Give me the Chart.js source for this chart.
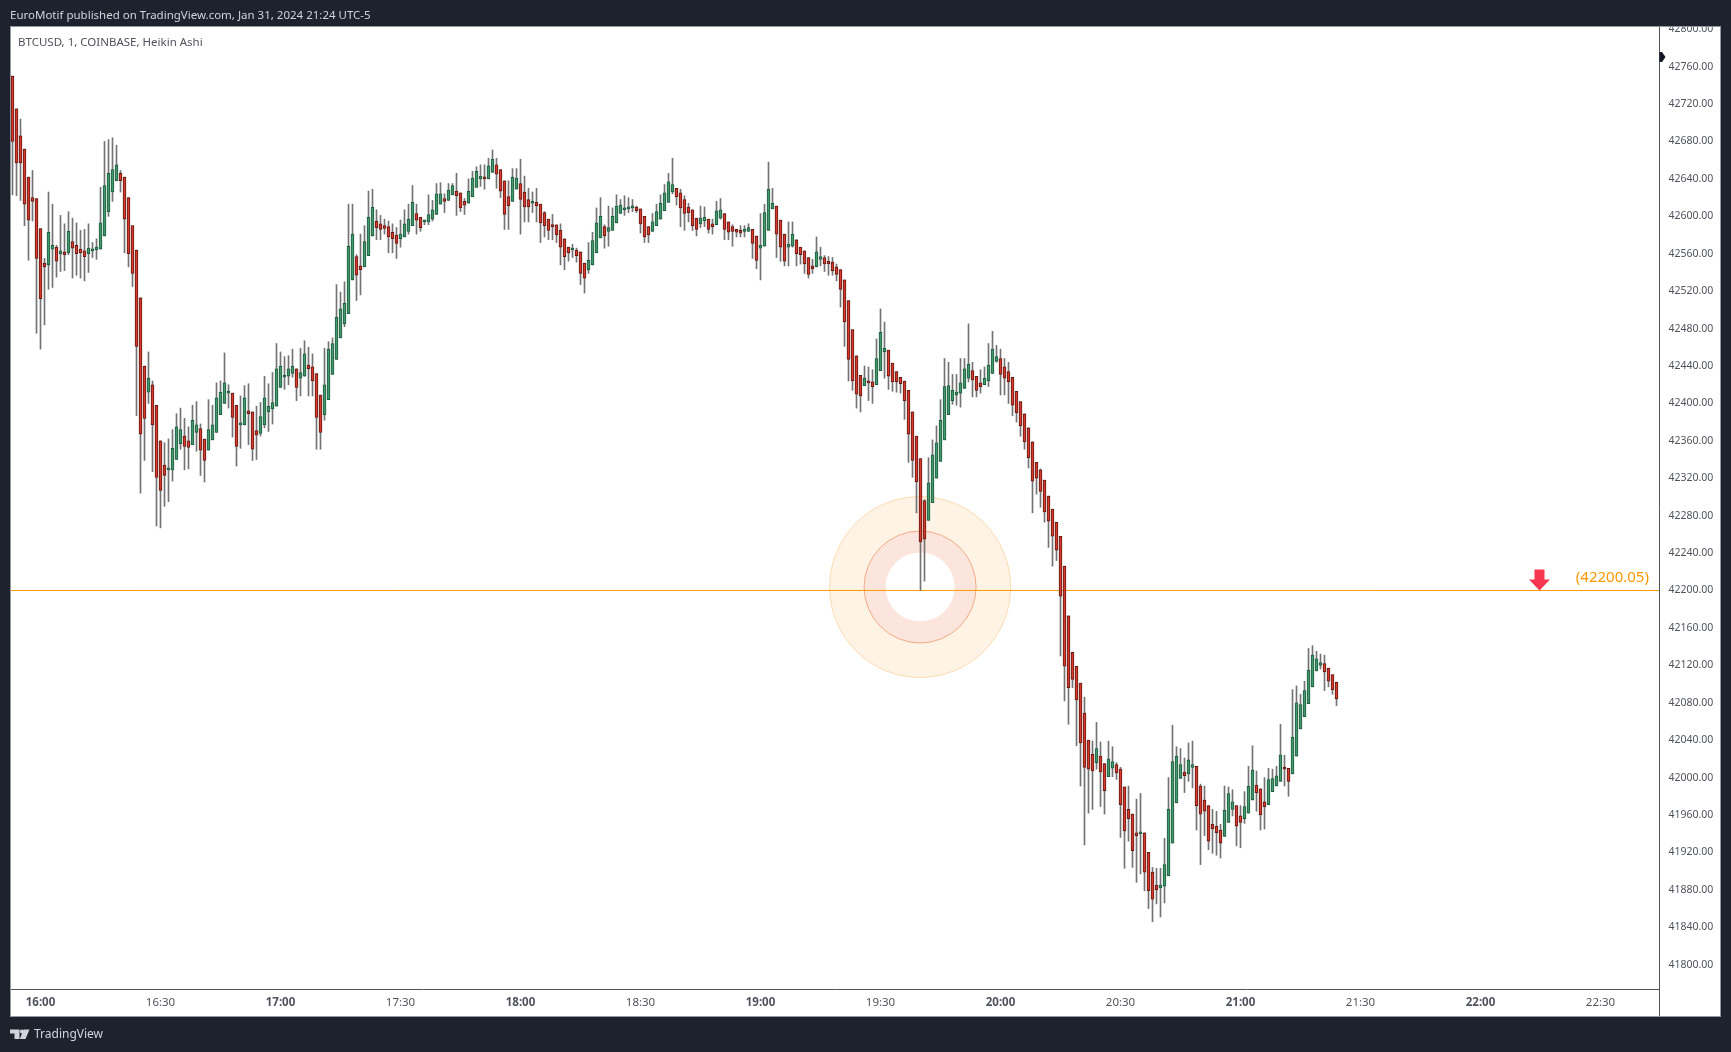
<!DOCTYPE html>
<html>
<head>
<meta charset="utf-8">
<title>BTCUSD Heikin Ashi</title>
<style>
  html, body { margin: 0; padding: 0; background: #1e222d; overflow: hidden; }
  canvas { display: block; }
</style>
</head>
<body>
<canvas id="chart" width="1731" height="1052"></canvas>
<script src="https://cdn.jsdelivr.net/npm/chart.js@4/dist/chart.umd.min.js"></script>
<script>
// minutes after 16:00 of the first bar (15:53)
const firstMinute = -7;

const opens = [
  42750,42715,42686,42672,42642,42620,42619,42587,42550,42548,
  42565,42567,42560,42562,42561,42573,42569,42565,42563,42560,
  42563,42564,42565,42579,42605,42626,42638,42646,42642,42620,
  42590,42564,42513,42440,42412,42420,42398,42360,42334,42329,
  42329,42340,42357,42365,42360,42356,42369,42373,42362,42350,
  42361,42369,42388,42400,42411,42411,42398,42377,42377,42392,
  42391,42371,42368,42377,42391,42394,42397,42417,42428,42429,
  42432,42437,42427,42429,42441,42439,42432,42409,42388,42404,
  42431,42447,42470,42485,42496,42532,42557,42547,42546,42558,
  42579,42595,42592,42590,42589,42583,42580,42576,42578,42584,
  42590,42603,42599,42594,42594,42597,42602,42613,42619,42617,
  42623,42627,42625,42616,42614,42621,42631,42640,42641,42640,
  42647,42655,42650,42638,42621,42616,42629,42635,42626,42618,
  42614,42615,42613,42604,42597,42591,42591,42585,42576,42567,
  42564,42564,42562,42550,42543,42548,42561,42577,42589,42584,
  42585,42593,42603,42607,42608,42609,42610,42608,42600,42589,
  42584,42590,42597,42606,42615,42626,42630,42625,42618,42610,
  42607,42598,42592,42595,42597,42592,42591,42598,42603,42594,
  42589,42586,42585,42584,42584,42586,42579,42566,42568,42585,
  42608,42611,42596,42581,42567,42568,42575,42567,42563,42556,
  42547,42546,42554,42556,42552,42551,42546,42543,42532,42510,
  42479,42451,42430,42419,42423,42423,42420,42435,42455,42457,
  42443,42434,42428,42424,42414,42391,42365,42341,42296,42275,
  42294,42320,42338,42361,42388,42403,42409,42411,42416,42427,
  42435,42429,42422,42420,42424,42432,42445,42448,42439,42434,
  42428,42413,42402,42389,42374,42359,42337,42329,42318,42301,
  42287,42273,42258,42226,42173,42134,42119,42101,42069,42040,
  42025,42016,42023,42015,42001,42010,42014,42009,41990,41966,
  41961,41941,41940,41941,41920,41899,41885,41882,41884,41895,
  41930,41973,41999,42006,42004,42011,42012,41991,41976,41970,
  41950,41948,41944,41937,41952,41966,41970,41959,41956,41962,
  41976,41992,41988,41974,41971,41985,41991,41996,42010,42010,
  42004,42023,42052,42065,42079,42097,42114,42120,42122,42117,
  42110,42102
];

const closes = [
  42680,42657,42657,42613,42596,42616,42555,42512,42546,42583,
  42569,42552,42563,42559,42584,42566,42560,42561,42557,42566,
  42565,42567,42593,42633,42646,42650,42655,42638,42597,42560,
  42539,42461,42367,42384,42427,42377,42321,42307,42323,42329,
  42352,42375,42372,42354,42353,42382,42377,42350,42339,42372,
  42377,42406,42412,42422,42411,42385,42354,42377,42406,42389,
  42351,42366,42386,42406,42397,42401,42437,42440,42430,42437,
  42440,42417,42433,42453,42437,42424,42385,42369,42420,42458,
  42464,42492,42501,42507,42568,42581,42537,42543,42573,42599,
  42610,42588,42586,42587,42578,42576,42571,42581,42592,42597,
  42615,42596,42588,42594,42602,42607,42624,42624,42616,42628,
  42633,42622,42609,42612,42627,42641,42648,42643,42640,42654,
  42661,42645,42627,42602,42611,42642,42641,42618,42610,42610,
  42615,42611,42593,42590,42585,42589,42580,42567,42557,42561,
  42564,42558,42539,42534,42553,42574,42593,42600,42579,42588,
  42600,42611,42612,42609,42610,42611,42606,42592,42578,42580,
  42594,42605,42614,42625,42637,42634,42621,42609,42603,42604,
  42590,42586,42598,42599,42586,42589,42606,42607,42586,42583,
  42584,42583,42582,42584,42588,42571,42553,42569,42604,42629,
  42614,42581,42567,42552,42570,42581,42560,42559,42549,42538,
  42544,42562,42557,42549,42549,42542,42538,42522,42487,42447,
  42424,42410,42408,42427,42422,42418,42448,42476,42459,42429,
  42423,42423,42421,42403,42367,42339,42316,42252,42255,42315,
  42345,42358,42382,42418,42419,42414,42412,42422,42437,42442,
  42425,42414,42418,42427,42441,42458,42450,42431,42427,42423,
  42398,42390,42376,42359,42342,42317,42320,42306,42284,42274,
  42258,42243,42194,42119,42096,42105,42083,42037,42011,42009,
  42007,42031,42006,41986,42020,42017,42005,41971,41943,41956,
  41922,41938,41942,41899,41879,41870,41880,41885,41907,41966,
  42017,42023,42014,42002,42019,42014,41970,41961,41964,41932,
  41945,41941,41930,41965,41983,41974,41948,41952,41969,41991,
  42008,41984,41960,41969,41998,41999,42002,42024,42009,41996,
  42043,42080,42078,42093,42115,42131,42127,42123,42113,42103,
  42094,42084
];

const highs = [
  42750,42715,42704,42672,42642,42649,42619,42587,42555,42626,
  42613,42569,42601,42592,42605,42598,42593,42585,42586,42592,
  42572,42576,42631,42680,42682,42684,42676,42649,42642,42620,
  42590,42564,42513,42440,42455,42424,42398,42360,42358,42362,
  42372,42389,42395,42384,42375,42398,42402,42378,42362,42404,
  42398,42422,42424,42454,42420,42411,42398,42408,42419,42421,
  42391,42397,42401,42429,42421,42433,42464,42455,42450,42451,
  42458,42437,42459,42467,42460,42453,42432,42409,42459,42466,
  42470,42527,42519,42530,42613,42613,42559,42581,42590,42627,
  42629,42607,42601,42597,42595,42592,42588,42596,42607,42613,
  42633,42613,42599,42596,42623,42617,42635,42636,42624,42635,
  42635,42646,42625,42619,42640,42648,42653,42655,42655,42662,
  42671,42662,42650,42638,42638,42651,42651,42661,42643,42630,
  42626,42630,42613,42605,42597,42602,42591,42592,42576,42567,
  42570,42566,42562,42550,42572,42583,42609,42620,42591,42611,
  42609,42623,42618,42622,42620,42618,42611,42608,42600,42589,
  42603,42613,42623,42634,42646,42662,42630,42629,42622,42614,
  42607,42598,42611,42610,42597,42597,42616,42619,42603,42594,
  42591,42586,42590,42590,42592,42586,42579,42603,42613,42658,
  42630,42611,42596,42581,42594,42594,42575,42567,42563,42556,
  42554,42578,42567,42558,42557,42556,42549,42543,42532,42510,
  42479,42451,42430,42440,42439,42436,42469,42501,42487,42457,
  42443,42434,42428,42424,42414,42391,42365,42341,42297,42342,
  42361,42376,42404,42448,42444,42431,42431,42448,42448,42485,
  42444,42429,42436,42439,42464,42477,42462,42458,42448,42444,
  42428,42413,42402,42389,42374,42359,42337,42330,42318,42301,
  42287,42273,42258,42226,42173,42134,42119,42101,42086,42040,
  42039,42059,42038,42015,42039,42033,42016,42011,41990,41991,
  41961,41977,41983,41941,41920,41904,41903,41903,41935,42000,
  42056,42033,42031,42021,42037,42039,42012,41993,41991,41970,
  41966,41964,41950,41991,41990,41987,41970,41970,41985,42012,
  42034,42007,41988,42000,42010,42009,42012,42057,42024,42010,
  42094,42098,42089,42103,42138,42141,42135,42132,42131,42117,
  42110,42102
];

const lows = [
  42623,42622,42617,42590,42553,42595,42475,42458,42484,42522,
  42524,42535,42541,42542,42559,42534,42537,42534,42531,42540,
  42556,42554,42565,42579,42600,42616,42638,42626,42561,42546,
  42525,42387,42304,42339,42400,42327,42269,42267,42290,42295,
  42317,42340,42351,42329,42330,42356,42349,42323,42316,42350,
  42361,42369,42388,42400,42395,42364,42333,42352,42377,42356,
  42339,42340,42365,42374,42370,42378,42397,42417,42415,42420,
  42428,42403,42408,42429,42408,42408,42351,42351,42382,42404,
  42431,42447,42470,42482,42496,42532,42510,42516,42546,42558,
  42579,42575,42575,42581,42561,42561,42555,42567,42578,42581,
  42590,42581,42584,42591,42591,42595,42602,42613,42604,42617,
  42623,42601,42605,42602,42614,42621,42631,42632,42629,42640,
  42647,42630,42620,42586,42586,42616,42629,42581,42594,42594,
  42604,42594,42572,42578,42575,42575,42572,42548,42543,42552,
  42556,42551,42527,42518,42539,42548,42561,42577,42566,42568,
  42585,42593,42603,42601,42604,42605,42604,42582,42572,42572,
  42584,42590,42597,42606,42615,42624,42612,42589,42585,42594,
  42585,42579,42588,42589,42582,42581,42591,42597,42575,42575,
  42568,42578,42578,42578,42584,42555,42544,42532,42568,42585,
  42608,42556,42552,42547,42547,42567,42547,42549,42539,42534,
  42539,42546,42547,42541,42537,42537,42531,42503,42461,42424,
  42414,42395,42391,42419,42403,42400,42420,42435,42427,42415,
  42413,42412,42411,42383,42337,42321,42283,42200.05,42210,42275,
  42294,42320,42338,42361,42388,42399,42398,42396,42416,42423,
  42407,42407,42411,42420,42418,42432,42444,42409,42409,42400,
  42387,42380,42365,42351,42331,42283,42303,42289,42273,42246,
  42226,42232,42130,42082,42057,42096,42034,41991,41928,41962,
  41966,42009,41969,41961,42001,42001,41998,41936,41903,41932,
  41904,41888,41897,41879,41860,41846,41865,41851,41866,41895,
  41930,41973,41999,41984,41996,41989,41944,41907,41938,41923,
  41919,41917,41914,41937,41952,41959,41927,41925,41951,41962,
  41976,41964,41944,41945,41971,41985,41991,41996,41991,41980,
  42004,42023,42052,42065,42079,42097,42114,42116,42093,42097,
  42089,42077
];

const timeTickMinutes = [0,30,60,90,120,150,180,210,240,270,300,330,360,390];
const timeTickLabels = ["16:00","16:30","17:00","17:30","18:00","18:30","19:00","19:30","20:00","20:30","21:00","21:30","22:00","22:30"];
const priceTicks = [41800,41840,41880,41920,41960,42000,42040,42080,42120,42160,42200,42240,42280,42320,42360,42400,42440,42480,42520,42560,42600,42640,42680,42720,42760,42800];

const levelPrice = 42200.05;
const levelLabel = "(42200.05)";
const arrowMinute = 374.75;
const haloMinute = 219.9;
const haloPrice = 42203.75;
const lastPriceMark = 42770.3;

const headerText = "EuroMotif published on TradingView.com, Jan 31, 2024 21:24 UTC-5";
const symbolText = "BTCUSD, 1, COINBASE, Heikin Ashi";
const footerText = "TradingView";

const UI_FONT = '"Noto Sans", sans-serif';
const RED = "#d9392a", RED_EDGE = "#5e1a14";
const GREEN = "#44996b", GREEN_EDGE = "#1c5a3f";

const barMinutes = opens.map((_, i) => firstMinute + i);
const isUp = opens.map((o, i) => closes[i] >= o);

const tvChrome = {
    id: "tvChrome",
    beforeDraw(chart) {
        const c = chart.ctx;
        c.save();
        c.fillStyle = "#1e222d";
        c.fillRect(0, 0, chart.width, chart.height);
        c.fillStyle = "#ffffff";
        c.fillRect(10, 26, 1710, 990);
        c.restore();
    },
    afterDatasetsDraw(chart) {
        const c = chart.ctx;
        const x = chart.scales.x.getPixelForValue(arrowMinute);
        const y = chart.scales.y.getPixelForValue(levelPrice);
        c.save();
        c.fillStyle = "#f7374f";
        c.beginPath();
        c.moveTo(x - 5, y - 21);
        c.lineTo(x + 5, y - 21);
        c.lineTo(x + 5, y - 11);
        c.lineTo(x + 10.5, y - 11);
        c.lineTo(x, y);
        c.lineTo(x - 10.5, y - 11);
        c.lineTo(x - 5, y - 11);
        c.closePath();
        c.fill();
        c.fillStyle = "#ff9800";
        c.font = "15px " + UI_FONT;
        c.textAlign = "right";
        c.textBaseline = "middle";
        c.fillText(levelLabel, chart.scales.x.getPixelForValue(402.1), y - 13);
        c.restore();
    },
    afterDraw(chart) {
        const c = chart.ctx;
        const axisX = chart.chartArea.right + 0.5;
        c.save();
        // hide the part of the top tick that runs over the panel edge
        c.fillStyle = "#1e222d";
        c.fillRect(0, 0, chart.width, 26);
        c.strokeStyle = "#9598a1";
        c.lineWidth = 1;
        c.strokeRect(10.5, 26.5, 1710, 990);
        c.strokeStyle = "#50535e";
        c.beginPath();
        c.moveTo(axisX, 989);
        c.lineTo(axisX, 1016);
        c.stroke();
        // last price pointer
        const py = chart.scales.y.getPixelForValue(lastPriceMark);
        c.fillStyle = "#131722";
        c.beginPath();
        c.moveTo(axisX, py - 5);
        c.lineTo(axisX + 2.5, py - 5);
        c.lineTo(axisX + 6, py);
        c.lineTo(axisX + 2.5, py + 5);
        c.lineTo(axisX, py + 5);
        c.closePath();
        c.fill();
        c.textAlign = "left";
        c.textBaseline = "middle";
        c.fillStyle = "#d1d4dc";
        c.font = "11.5px " + UI_FONT;
        c.fillText(headerText, 10, 16);
        c.fillStyle = "#50535e";
        c.fillText(symbolText, 18, 43);
        c.fillStyle = "#d1d4dc";
        c.font = "12px " + UI_FONT;
        c.fillText(footerText, 34, 1035);
        // logo
        c.beginPath();
        c.moveTo(10, 1029.5);
        c.lineTo(19.5, 1029.5);
        c.lineTo(19.5, 1039);
        c.lineTo(14.5, 1039);
        c.lineTo(14.5, 1033.5);
        c.lineTo(10, 1033.5);
        c.closePath();
        c.moveTo(23.5, 1029.5);
        c.lineTo(29.5, 1029.5);
        c.lineTo(25.5, 1039);
        c.lineTo(19.8, 1039);
        c.closePath();
        c.fill();
        c.beginPath();
        c.arc(21.8, 1031.5, 2, 0, Math.PI * 2);
        c.fill();
        c.restore();
    }
};

new Chart(document.getElementById("chart").getContext("2d"), {
    type: "bar",
    data: {
        datasets: [
            {
                label: "Body",
                order: 0,
                grouped: false,
                data: barMinutes.map((m, i) => ({ x: m, y: [opens[i], closes[i]] })),
                backgroundColor: isUp.map(u => u ? GREEN : RED),
                borderColor: isUp.map(u => u ? GREEN_EDGE : RED_EDGE),
                borderWidth: 1,
                borderSkipped: false,
                barThickness: 3,
                minBarLength: 2
            },
            {
                label: "Wick",
                order: 1,
                grouped: false,
                data: barMinutes.map((m, i) => ({ x: m, y: [lows[i], highs[i]] })),
                backgroundColor: "#737373",
                borderWidth: 0,
                barThickness: 1
            },
            {
                type: "line",
                label: "Level",
                order: 2,
                data: [{ x: -7.375, y: levelPrice }, { x: 404.625, y: levelPrice }],
                borderColor: "#ff9800",
                borderWidth: 1,
                pointRadius: 0
            },
            {
                type: "bubble",
                label: "Halo inner",
                order: 3,
                data: [{ x: haloMinute, y: haloPrice, r: 34.5 }],
                backgroundColor: "#ffffff",
                borderWidth: 0
            },
            {
                type: "bubble",
                label: "Halo middle",
                order: 4,
                data: [{ x: haloMinute, y: haloPrice, r: 56 }],
                backgroundColor: "#fbe5dc",
                borderColor: "#f2ab85",
                borderWidth: 1
            },
            {
                type: "bubble",
                label: "Halo outer",
                order: 5,
                data: [{ x: haloMinute, y: haloPrice, r: 90.5 }],
                backgroundColor: "#fff3e5",
                borderColor: "#fddcb0",
                borderWidth: 1
            }
        ]
    },
    options: {
        responsive: false,
        animation: false,
        events: [],
        layout: { autoPadding: false, padding: { left: 11, top: 27, right: 11, bottom: 35 } },
        plugins: { legend: { display: false }, tooltip: { enabled: false }, title: { display: false } },
        scales: {
            x: {
                type: "linear",
                offset: false,
                min: -7.375,
                max: 404.625,
                afterBuildTicks(scale) { scale.ticks = timeTickMinutes.map(v => ({ value: v })); },
                afterFit(scale) { scale.height = 28; },
                grid: { display: false, drawTicks: false },
                border: { display: true, color: "#50535e", width: 1 },
                ticks: {
                    autoSkip: false,
                    maxRotation: 0,
                    padding: 7,
                    color: "#50535e",
                    font: ctx => ({ family: UI_FONT, size: 11.5, weight: ctx.index % 2 === 0 ? "bold" : "normal" }),
                    callback: (v, i) => timeTickLabels[i]
                }
            },
            y: {
                type: "linear",
                position: "right",
                min: 41774,
                max: 42802.4,
                afterBuildTicks(scale) { scale.ticks = priceTicks.map(v => ({ value: v })); },
                afterFit(scale) { scale.width = 61; },
                grid: { display: false, drawTicks: false },
                border: { display: true, color: "#50535e", width: 1 },
                ticks: {
                    padding: 9.5,
                    color: "#50535e",
                    font: { family: UI_FONT, size: 10.5 },
                    callback: v => v.toFixed(2)
                }
            }
        }
    },
    plugins: [tvChrome]
});
</script>
</body>
</html>
